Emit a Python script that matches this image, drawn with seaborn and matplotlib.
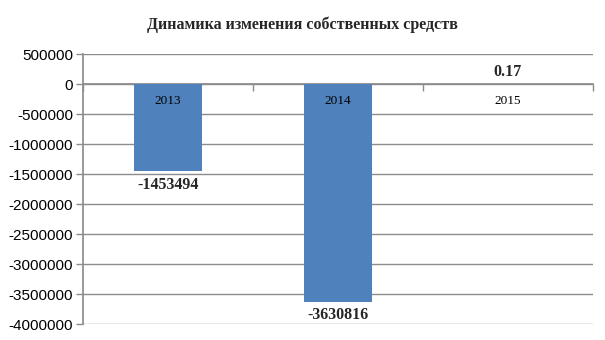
import matplotlib
matplotlib.use("Agg")
import matplotlib.pyplot as plt
import seaborn as sns
import pandas as pd

categories = ["2013", "2014", "2015"]
values = [-1453494, -3630816, 0.17]
value_labels = ["-1453494", "-3630816", "0.17"]
yticks = list(range(-4000000, 500001, 500000))

sns.set_theme(style="white")
plt.rcParams["font.family"] = ["Liberation Sans", "DejaVu Sans"]

df = pd.DataFrame({"year": categories, "value": values})

fig = plt.figure(figsize=(6.05, 3.4), dpi=100)
ax = fig.add_axes([83 / 605, 1 - 324 / 340, (593 - 83) / 605, (324 - 54) / 340])

sns.barplot(data=df, x="year", y="value", color="#4F81BD", saturation=1,
            width=0.4, ax=ax, errorbar=None, linewidth=0, edgecolor="none")

ax.set_xlim(-0.5, 2.5)
ax.set_ylim(-4000000, 500000)
ax.set_yticks(yticks)
ax.set_yticklabels([str(t) for t in yticks], fontsize=11, color="black")
ax.yaxis.grid(True, color="#8c8c8c", linewidth=1)
ax.set_axisbelow(True)
ax.set_xlabel("")
ax.set_ylabel("")

for s in ["top", "right"]:
    ax.spines[s].set_visible(False)
ax.spines["left"].set_color("#8c8c8c")
ax.spines["bottom"].set_color("#8c8c8c")
ax.spines["bottom"].set_position(("data", 0))
ax.spines["bottom"].set_zorder(0.5)
ax.set_xticks([-0.5, 0.5, 1.5, 2.5])
ax.set_xticklabels([])
ax.tick_params(axis="x", direction="out", length=5, color="#8c8c8c", width=1, bottom=True)
ax.tick_params(axis="y", direction="out", length=5, color="#8c8c8c", width=1, left=True, pad=2)

for i, cat in enumerate(categories):
    ax.text(i, -285000, cat, ha="center", va="center", fontsize=9.5,
            family=["Liberation Serif", "DejaVu Serif"], color="black")

for i, (v, lab) in enumerate(zip(values, value_labels)):
    if v < 0:
        ax.annotate(lab, (i, v), xytext=(0, -4), textcoords="offset points",
                    ha="center", va="top", fontsize=11.5, fontweight="bold",
                    family=["Liberation Serif", "DejaVu Serif"])
    else:
        ax.annotate(lab, (i, v), xytext=(0, 3), textcoords="offset points",
                    ha="center", va="bottom", fontsize=11.5, fontweight="bold",
                    family=["Liberation Serif", "DejaVu Serif"])

fig.text(0.5, 1 - 25 / 340, "Динамика изменения собственных средств", ha="center", va="center",
         fontsize=11.5, fontweight="bold", family=["Liberation Serif", "DejaVu Serif"])

fig.savefig("out.png", dpi=100, facecolor="white")
